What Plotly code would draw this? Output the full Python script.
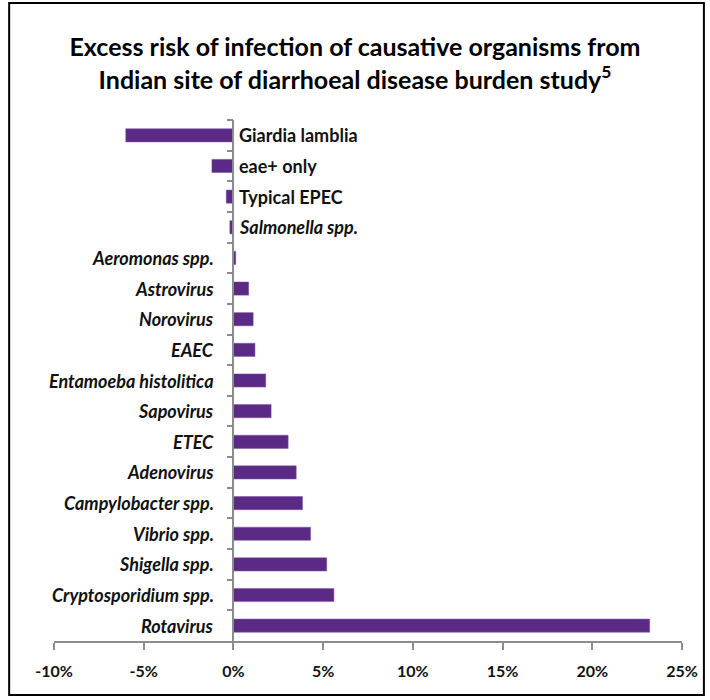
import plotly.graph_objects as go

categories = ["Giardia lamblia", "eae+ only", "Typical EPEC", "Salmonella spp.", "Aeromonas spp.",
              "Astrovirus", "Norovirus", "EAEC", "Entamoeba histolitica", "Sapovirus", "ETEC",
              "Adenovirus", "Campylobacter spp.", "Vibrio spp.", "Shigella spp.",
              "Cryptosporidium spp.", "Rotavirus"]
values = [-6.0, -1.2, -0.4, -0.2, 0.13, 0.85, 1.1, 1.2, 1.8, 2.1, 3.05, 3.5, 3.85, 4.3, 5.2, 5.6, 23.2]
italic = [False, False, False, True] + [True] * 13
tick_vals = [-10, -5, 0, 5, 10, 15, 20, 25]
tick_text = ["-10%", "-5%", "0%", "5%", "10%", "15%", "20%", "25%"]

FONT = "Lato, 'Open Sans', sans-serif"
BAR = "#5b2a87"
AX = "#8c8c8c"
X_MIN, X_MAX = -10, 25

fig = go.Figure()
fig.add_trace(go.Bar(
    x=values, y=categories, orientation="h",
    marker=dict(color=BAR, line=dict(color="#7a55a3", width=0.5)),
    hoverinfo="x+y",
))

annotations = []
for cat, v, it in zip(categories, values, italic):
    txt = f"<b><i>{cat}</i></b>" if it else f"<b>{cat}</b>"
    if v < 0:
        annotations.append(dict(x=0, y=cat, xref="x", yref="y", text=txt, showarrow=False,
                                xanchor="left", xshift=4, font=dict(family=FONT, size=18, color="#111")))
    else:
        annotations.append(dict(x=0, y=cat, xref="x", yref="y", text=txt, showarrow=False,
                                xanchor="right", xshift=-17, font=dict(family=FONT, size=18, color="#111")))

fig.update_layout(
    width=710, height=700,
    margin=dict(l=54, r=26, t=120, b=59),
    paper_bgcolor="white", plot_bgcolor="white",
    showlegend=False,
    bargap=0.57,
    title=dict(text="<b>Excess risk of infection of causative organisms from<br>Indian site of diarrhoeal disease burden study<sup>5</sup></b>",
               x=0.5, xanchor="center", y=0.92, yanchor="top",
               font=dict(family=FONT, size=25, color="#000")),
    font=dict(family=FONT, color="#111"),
    annotations=annotations,
    xaxis=dict(range=[X_MIN, X_MAX], tickvals=tick_vals, ticktext=tick_text,
               showgrid=False, zeroline=False, showline=True, linecolor=AX, linewidth=1.5,
               ticks="outside", ticklen=7, tickcolor=AX, tickwidth=1.5,
               ticklabelstandoff=8,
               tickfont=dict(family=FONT, size=16, color="#111", weight="bold")),
    yaxis=dict(autorange="reversed", showticklabels=False, showgrid=False, zeroline=False,
               anchor="free", position=(0 - X_MIN) / (X_MAX - X_MIN),
               showline=True, linecolor=AX, linewidth=1.5,
               tickson="boundaries", ticks="outside", ticklen=6, tickcolor=AX, tickwidth=1.5),
    shapes=[
        dict(type="rect", xref="paper", yref="paper", x0=-0.0714, x1=1.0349, y0=-0.1036, y1=1.2246,
             line=dict(color="#000", width=2), fillcolor="rgba(0,0,0,0)"),
    ],
)

fig.write_html("out.html")
